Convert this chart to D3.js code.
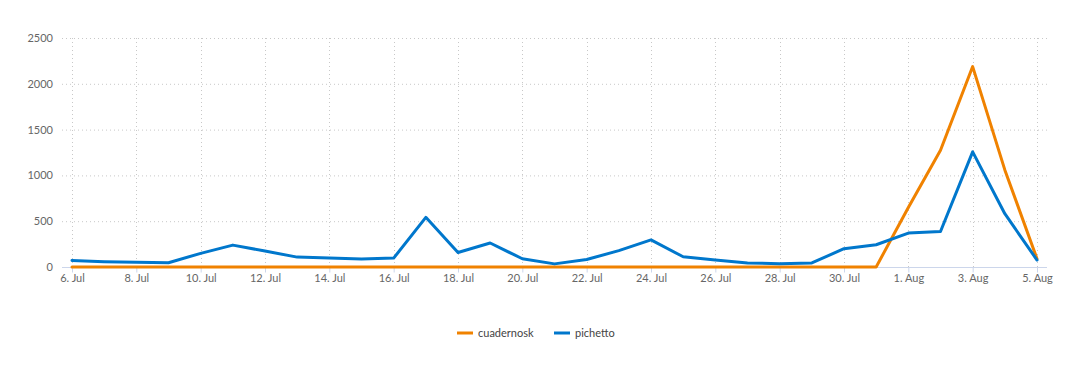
<!DOCTYPE html>
<html><head><meta charset="utf-8">
<script src="https://cdn.jsdelivr.net/npm/d3@7"></script>
<style>
body{margin:0;background:#fff;}
svg{display:block;font-family:Lato,"Open Sans",sans-serif;}
</style></head>
<body><div id="chart"></div>
<script>
const startDate = "2023-07-06";
const dayCount = 31;
const seriesNames = ["cuadernosk", "pichetto"];
const seriesColors = ["#f08200", "#0077cc"];
const cuadernoskValues = [0,0,0,0,0,0,0,0,0,0,0,0,0,0,0,0,0,0,0,0,0,0,0,0,0,0,650,1275,2188,1060,90];
const pichettoValues = [72,58,51,47,149,239,174,108,97,86,97,542,158,262,90,34,82,179,296,112,76,44,36,44,200,243,370,388,1257,582,76];
const yTicks = [0,500,1000,1500,2000,2500];
const monthNames = ["Jan","Feb","Mar","Apr","May","Jun","Jul","Aug","Sep","Oct","Nov","Dec"];

const W = 1072, H = 367;
const plotL = 62, plotR = 1047, plotT = 38, plotB = 267;
const dates = d3.range(dayCount).map(i => d3.timeDay.offset(new Date(startDate + "T00:00:00"), i));

const x = d3.scaleTime().domain([dates[0], dates[dates.length-1]]).range([72, 1037]);
const y = d3.scaleLinear().domain([0, 2500]).range([plotB, plotT]);

const svg = d3.select("#chart").append("svg").attr("width", W).attr("height", H);

// horizontal grid
svg.append("g").selectAll("line").data(yTicks.filter(v => v > 0)).join("line")
  .attr("x1", plotL).attr("x2", plotR)
  .attr("y1", d => y(d) + 0.5).attr("y2", d => y(d) + 0.5)
  .attr("stroke", "#c8c8c8").attr("stroke-dasharray", "1,3");

const xTickDates = dates.filter((d, i) => i % 2 === 0);
// vertical grid
svg.append("g").selectAll("line").data(xTickDates).join("line")
  .attr("x1", d => Math.round(x(d)) + 0.5).attr("x2", d => Math.round(x(d)) + 0.5)
  .attr("y1", plotT).attr("y2", plotB)
  .attr("stroke", "#c8c8c8").attr("stroke-dasharray", "1,3");

// y labels
svg.append("g").selectAll("text").data(yTicks).join("text")
  .attr("x", 53).attr("y", d => y(d) + 4)
  .attr("text-anchor", "end").attr("font-size", 11).attr("fill", "#666")
  .text(d => d);

// x axis
const xAxis = d3.axisBottom(x).tickValues(xTickDates).tickSize(5).tickSizeOuter(0)
  .tickFormat(d => d.getDate() + ". " + monthNames[d.getMonth()]);
const gx = svg.append("g").attr("transform", `translate(0,${plotB + 0.5})`).call(xAxis);
gx.select(".domain").remove();
gx.selectAll(".tick line").attr("stroke", "#ccd6eb");
gx.selectAll(".tick text").attr("fill", "#666").attr("font-size", 11)
  .attr("font-family", "Lato, sans-serif").attr("dy", "0.6em");
svg.append("line").attr("x1", plotL).attr("x2", plotR)
  .attr("y1", plotB + 0.5).attr("y2", plotB + 0.5).attr("stroke", "#ccd6eb");

// lines
const line = d3.line().x((d, i) => x(dates[i])).y(d => y(d));
const allSeries = [cuadernoskValues, pichettoValues];
allSeries.forEach((vals, k) => {
  svg.append("path").datum(vals).attr("d", line)
    .attr("fill", "none").attr("stroke", seriesColors[k]).attr("stroke-width", 3)
    .attr("stroke-linejoin", "round").attr("stroke-linecap", "round");
});

// legend
const legendItems = [{x: 457}, {x: 554}];
seriesNames.forEach((n, k) => {
  const g = svg.append("g").attr("transform", `translate(${legendItems[k].x},333)`);
  g.append("line").attr("x1", 0).attr("x2", 16).attr("y1", 0).attr("y2", 0)
    .attr("stroke", seriesColors[k]).attr("stroke-width", 3);
  g.append("text").attr("x", 21).attr("y", 4).attr("font-size", 11).attr("fill", "#444").text(n);
});
</script></body></html>
